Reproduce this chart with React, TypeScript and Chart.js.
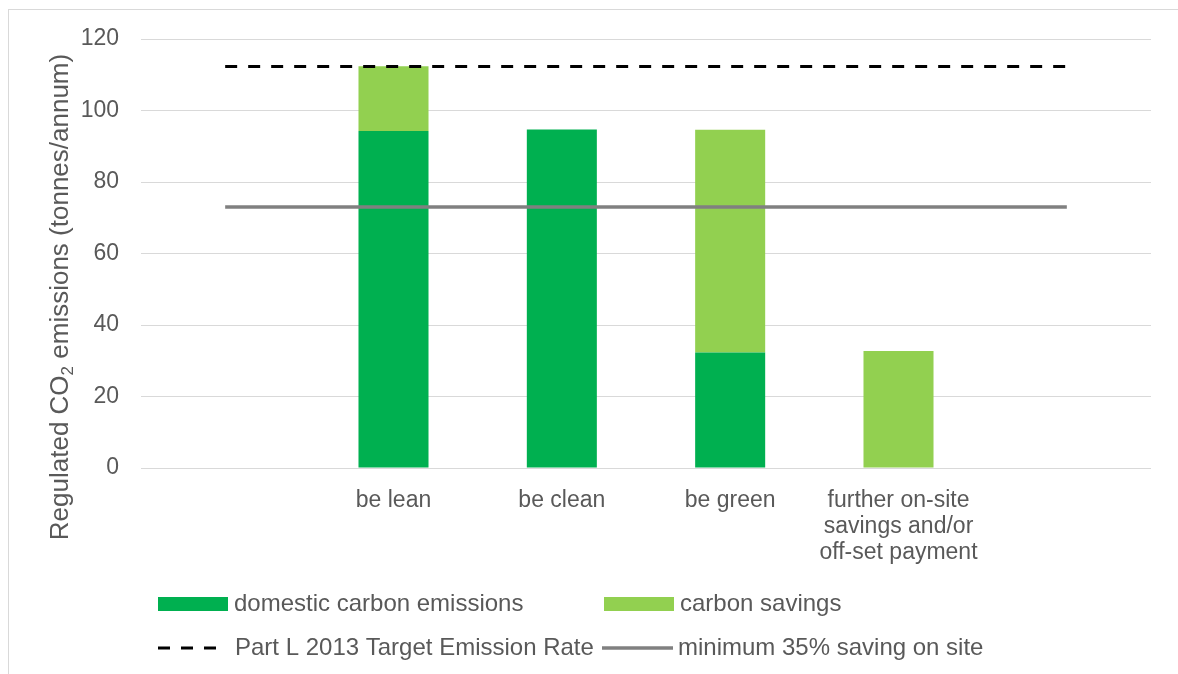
import React, { useEffect, useRef } from "react";
import { Chart, registerables } from "chart.js";

Chart.register(...registerables);

const categories: (string | string[])[] = [
  "",
  "be lean",
  "be clean",
  "be green",
  ["further on-site", "savings and/or", "off-set payment"],
  "",
];
const domesticEmissions: (number | null)[] = [null, 94.3, 94.7, 32.3, null, null];
const carbonSavings: (number | null)[] = [null, 18.1, null, 62.3, 32.7, null];
const targetEmissionRate: number[] = [112.3, 112.3, 112.3, 112.3, 112.3, 112.3];
const minimumSaving: number[] = [73, 73, 73, 73, 73, 73];
const yTicks = { min: 0, max: 120, step: 20 };
const yTitleParts = { before: "Regulated CO", sub: "2", after: " emissions (tonnes/annum)" };
const seriesLabels = {
  domestic: "domestic carbon emissions",
  savings: "carbon savings",
  target: "Part L 2013 Target Emission Rate",
  minimum: "minimum 35% saving on site",
};

const FONT = "'Liberation Sans', Arial, sans-serif";
const TEXT = "#595959";

const yTitlePlugin = {
  id: "yTitle",
  afterDraw(chart: any) {
    const ctx = chart.ctx;
    ctx.save();
    ctx.fillStyle = TEXT;
    ctx.translate(61, 297);
    ctx.rotate(-Math.PI / 2);
    const big = `26px ${FONT}`;
    const small = `17px ${FONT}`;
    ctx.font = big;
    const w1 = ctx.measureText(yTitleParts.before).width;
    const w3 = ctx.measureText(yTitleParts.after).width;
    ctx.font = small;
    const w2 = ctx.measureText(yTitleParts.sub).width;
    const total = w1 + w2 + w3;
    let x = -total / 2;
    ctx.textBaseline = "middle";
    ctx.textAlign = "left";
    ctx.font = big;
    ctx.fillText(yTitleParts.before, x, 0);
    x += w1;
    ctx.font = small;
    ctx.fillText(yTitleParts.sub, x, 7);
    x += w2;
    ctx.font = big;
    ctx.fillText(yTitleParts.after, x, 0);
    ctx.restore();
  },
};

const legendPlugin = {
  id: "customLegend",
  afterDraw(chart: any) {
    const ctx = chart.ctx;
    const ds = chart.data.datasets;
    ctx.save();
    ctx.font = `24px ${FONT}`;
    ctx.fillStyle = TEXT;
    ctx.textBaseline = "middle";
    ctx.textAlign = "left";
    const items = [
      { d: ds[0], x: 158, y: 604 },
      { d: ds[1], x: 604, y: 604 },
      { d: ds[2], x: 158, y: 648 },
      { d: ds[3], x: 602, y: 648 },
    ];
    items.forEach(({ d, x, y }) => {
      if (d.type === "bar") {
        ctx.fillStyle = d.backgroundColor;
        ctx.fillRect(x, y - 7, 70, 14);
      } else {
        ctx.strokeStyle = d.borderColor;
        ctx.lineWidth = d.borderWidth;
        ctx.setLineDash(d.borderDash || []);
        ctx.beginPath();
        ctx.moveTo(x, y);
        ctx.lineTo(x + (d.borderDash ? 60 : 71), y);
        ctx.stroke();
        ctx.setLineDash([]);
      }
      ctx.fillStyle = TEXT;
      ctx.fillText(d.label, x + (d.borderDash ? 77 : 76), y);
    });
    ctx.restore();
  },
};

export default function App() {
  const ref = useRef<HTMLCanvasElement>(null);
  useEffect(() => {
    const chart = new Chart(ref.current as HTMLCanvasElement, {
      type: "bar",
      data: {
        labels: categories,
        datasets: [
          {
            type: "bar",
            label: seriesLabels.domestic,
            data: domesticEmissions,
            backgroundColor: "#00B050",
            stack: "bars",
            order: 2,
            categoryPercentage: 1,
            barPercentage: 0.416,
          },
          {
            type: "bar",
            label: seriesLabels.savings,
            data: carbonSavings,
            backgroundColor: "#92D050",
            stack: "bars",
            order: 2,
            categoryPercentage: 1,
            barPercentage: 0.416,
          },
          {
            type: "line",
            label: seriesLabels.target,
            data: targetEmissionRate,
            borderColor: "#000000",
            borderWidth: 3,
            borderDash: [12, 11],
            pointRadius: 0,
            stack: "l1",
            order: 0,
          },
          {
            type: "line",
            label: seriesLabels.minimum,
            data: minimumSaving,
            borderColor: "#808080",
            borderWidth: 3.5,
            pointRadius: 0,
            stack: "l2",
            order: 0,
          },
        ] as any,
      },
      options: {
        animation: false,
        responsive: false,
        layout: { padding: { top: 39, right: 27, left: 0, bottom: 0 } },
        plugins: { legend: { display: false }, tooltip: { enabled: false } },
        scales: {
          x: {
            grid: { display: false },
            border: { display: false },
            ticks: {
              color: TEXT,
              font: { family: FONT, size: 23, lineHeight: 1.15 },
              padding: 11,
              maxRotation: 0,
              autoSkip: false,
            },
            afterFit: (s: any) => {
              s.height = 206;
            },
          },
          y: {
            stacked: true,
            min: yTicks.min,
            max: yTicks.max,
            grid: { color: "#d9d9d9", lineWidth: 1, drawTicks: false },
            border: { display: false },
            ticks: {
              stepSize: yTicks.step,
              color: TEXT,
              font: { family: FONT, size: 23 },
              padding: 22,
            },
            afterFit: (s: any) => {
              s.width = 141;
            },
          },
        },
      } as any,
      plugins: [yTitlePlugin, legendPlugin],
    });
    return () => chart.destroy();
  }, []);
  return (
    <>
      <div
        style={{
          position: "fixed",
          left: 8,
          top: 9,
          width: 1300,
          height: 800,
          border: "1px solid #d9d9d9",
          boxSizing: "border-box",
        }}
      />
      <div style={{ position: "fixed", left: 0, top: 0, width: 1178, height: 674 }}>
        <canvas ref={ref} width={1178} height={674} style={{ display: "block" }} />
      </div>
    </>
  );
}
